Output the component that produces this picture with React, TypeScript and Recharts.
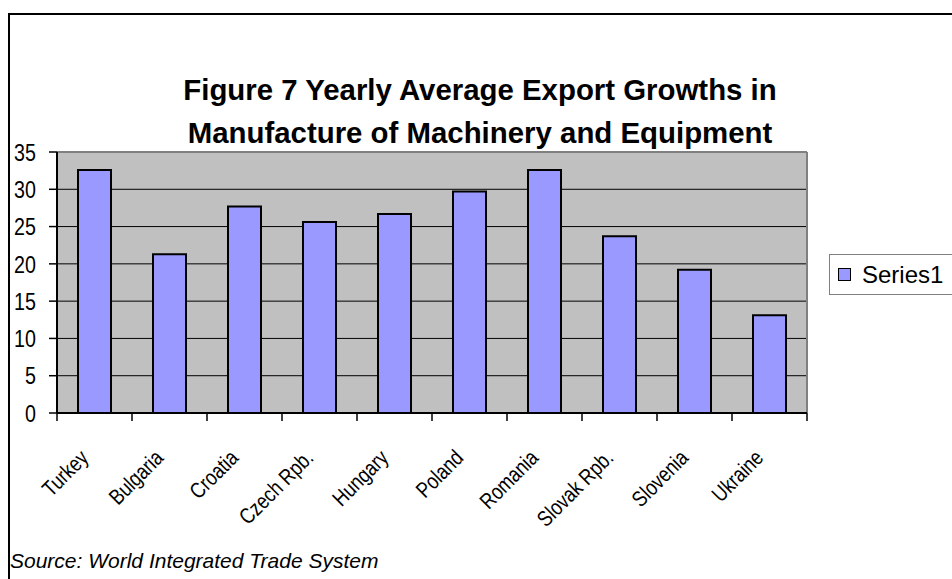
import React from "react";
import { BarChart, Bar, XAxis, YAxis, CartesianGrid, Legend, ReferenceLine } from "recharts";

const countries = [
  "Turkey",
  "Bulgaria",
  "Croatia",
  "Czech Rpb.",
  "Hungary",
  "Poland",
  "Romania",
  "Slovak Rpb.",
  "Slovenia",
  "Ukraine",
];
const series1 = [32.6, 21.3, 27.7, 25.6, 26.7, 29.7, 32.6, 23.7, 19.2, 13.1];
const yTicks = [0, 5, 10, 15, 20, 25, 30, 35];

const data = countries.map((country, i) => ({ country, value: series1[i] }));

const sans = "'Liberation Sans', Arial, sans-serif";

// label plus the small tick marks that sit between categories
function CountryTick(props: any) {
  const { x, y, payload, index } = props;
  const half = payload.offset || 0;
  const last = index === countries.length - 1;
  return (
    <g>
      <line x1={x - half} x2={x - half} y1={y} y2={y + 8} stroke="#000" strokeWidth={1.5} />
      {last && <line x1={x + half} x2={x + half} y1={y} y2={y + 8} stroke="#000" strokeWidth={1.5} />}
      <g transform={`translate(${x - 16},${y + 35})`}>
        <g transform="rotate(-45) scale(0.82,1)">
          <text x={0} y={0} dy="0.72em" textAnchor="end" fontFamily={sans} fontSize={22} fill="#000">
            {payload.value}
          </text>
        </g>
      </g>
    </g>
  );
}

function ValueTick(props: any) {
  const { x, y, payload } = props;
  return (
    <g>
      <line x1={x - 8} x2={x} y1={y} y2={y} stroke="#000" strokeWidth={1.5} />
      <g transform={`translate(${x - 21},${y})`}>
        <g transform="scale(0.82,1)">
          <text x={0} y={0} dy="0.36em" textAnchor="end" fontFamily={sans} fontSize={24} fill="#000">
            {payload.value}
          </text>
        </g>
      </g>
    </g>
  );
}

function SeriesLegend() {
  return (
    <div
      style={{
        border: "1px solid #808080",
        height: 41,
        width: 200,
        display: "flex",
        alignItems: "center",
        boxSizing: "border-box",
        background: "#fff",
      }}
    >
      <span
        style={{
          display: "inline-block",
          width: 11,
          height: 11,
          background: "#9999FF",
          border: "1px solid #000",
          marginLeft: 8,
          marginRight: 11,
        }}
      />
      <span style={{ fontFamily: sans, fontSize: 24, color: "#000" }}>Series1</span>
    </div>
  );
}

export default function App() {
  return (
    <div
      style={{
        position: "absolute",
        left: 0,
        top: 0,
        width: 952,
        height: 579,
        overflow: "hidden",
        background: "#fff",
      }}
    >
      <div
        style={{
          position: "absolute",
          left: 8,
          top: 13,
          width: 1100,
          height: 700,
          border: "2px solid #000",
        }}
      />
      <div
        style={{
          position: "absolute",
          left: 4,
          top: 68,
          width: 952,
          textAlign: "center",
          fontFamily: sans,
          fontWeight: "bold",
          fontSize: 29.4,
          lineHeight: "43px",
          color: "#000",
        }}
      >
        Figure 7 Yearly Average Export Growths in
        <br />
        Manufacture of Machinery and Equipment
      </div>
      <div style={{ position: "absolute", left: 0, top: 0 }}>
        <BarChart
          width={952}
          height={579}
          data={data}
          margin={{ top: 152, right: 145, bottom: 0, left: 0 }}
          barCategoryGap="28%"
        >
          <CartesianGrid
            vertical={false}
            stroke="#000"
            strokeWidth={1}
            fill="#C0C0C0"
            fillOpacity={1}
          />
          <XAxis
            dataKey="country"
            height={166}
            interval={0}
            tickSize={0}
            tickMargin={0}
            tick={<CountryTick />}
            tickLine={false}
            axisLine={{ stroke: "#000", strokeWidth: 2 }}
          />
          <YAxis
            domain={[0, 35]}
            ticks={yTicks}
            width={57}
            tickSize={0}
            tickMargin={0}
            interval={0}
            tick={<ValueTick />}
            tickLine={false}
            axisLine={{ stroke: "#000", strokeWidth: 2 }}
          />
          <ReferenceLine y={35} stroke="#808080" strokeWidth={2} />
          <ReferenceLine x={countries[countries.length - 1]} position="end" stroke="#808080" strokeWidth={2} />
          <Bar
            dataKey="value"
            name="Series1"
            fill="#9999FF"
            stroke="#000"
            strokeWidth={2}
            isAnimationActive={false}
          />
          <Legend
            layout="vertical"
            align="center"
            verticalAlign="middle"
            content={<SeriesLegend />}
            wrapperStyle={{ position: "absolute", left: 829, top: 254, width: 200 }}
          />
        </BarChart>
      </div>
      <div
        style={{
          position: "absolute",
          left: 10,
          top: 549,
          fontFamily: sans,
          fontStyle: "italic",
          fontSize: 21,
          color: "#000",
          whiteSpace: "nowrap",
        }}
      >
        Source: World Integrated Trade System
      </div>
    </div>
  );
}
